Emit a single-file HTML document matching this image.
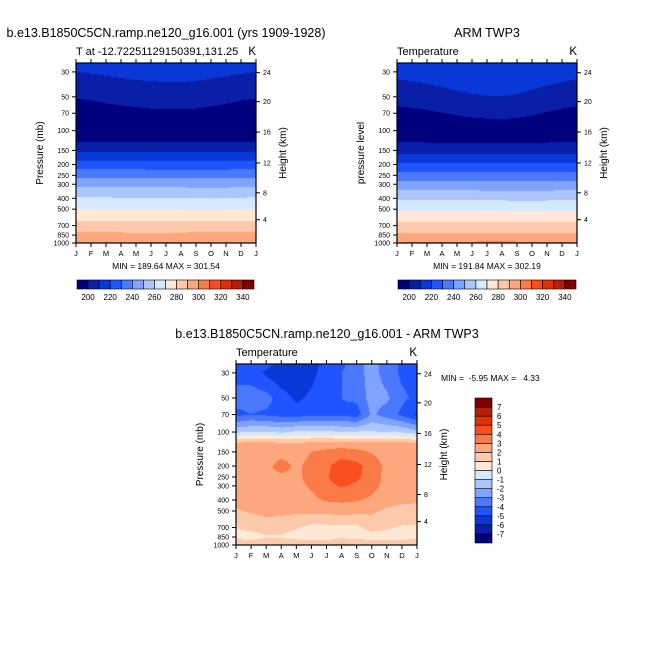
<!DOCTYPE html>
<html><head><meta charset="utf-8">
<style>
html,body{margin:0;padding:0;background:#fff;}
#wrap{position:relative;width:654px;height:654px;overflow:hidden;font-family:"Liberation Sans",Arial,sans-serif;}
canvas{position:absolute;}
svg{position:absolute;left:0;top:0;}
svg text{font-family:"Liberation Sans",Arial,sans-serif;fill:#000;}
</style></head>
<body>
<div id="wrap">
<canvas id="c1"></canvas>
<canvas id="c2"></canvas>
<canvas id="c3"></canvas>
<svg id="ov" width="654" height="654"></svg>
</div>
<script>
const months=['J','F','M','A','M','J','J','A','S','O','N','D','J'];
const pLevels=[25,30,50,70,100,125,150,200,250,300,400,500,700,850,1000];
const pTicks=[30,50,70,100,150,200,250,300,400,500,700,850,1000];
const kmTicks=[24,20,16,12,8,4];
const kmTickPressure=[30.5,55.2,102.9,193.9,357.6,620.6];
const tempLevels=[200,210,220,230,240,250,260,270,280,290,300,310,320,330,340];
const tempLabels=[200,220,240,260,280,300,320,340];
const diffLevels=[-7,-6,-5,-4,-3,-2,-1,0,1,2,3,4,5,6,7];
const colors=['#00007f','#0a1fa8','#0a37d8','#1f55ff','#4a78ff','#7fa3ff','#abc6ff','#d6e8ff','#ffe8d6','#fdc9ab','#fca77d','#fb7b48','#fa4e1e','#dd3008','#b41f0a','#800000'];
const modelT=[
[212.5,213,213.8,214.5,215,215.3,215.5,215.5,215.2,214.5,213.8,213,212.5],
[210,210.6,211.4,212.2,212.8,213.3,213.5,213.5,213.2,212.5,211.5,210.7,210],
[200.5,201.2,202.3,203.3,204,204.5,204.7,204.7,204.4,203.5,202.5,201.3,200.5],
[195,195.5,196.3,197,197.6,198.2,198.5,198.5,198.2,197.5,196.6,195.6,195],
[191,191,191,191,191.2,191.3,191.3,191.3,191.2,191,191,191,191],
[200,199.9,199.8,199.8,199.8,199.7,199.7,199.7,199.8,199.8,199.9,200,200],
[208.4,208.3,208.2,208.1,208,207.9,207.9,208,208,208.1,208.3,208.4,208.4],
[224.6,224.4,224.3,224.2,224.1,224,224,224,223.9,223.8,224,224.3,224.6],
[237.4,237.3,237.2,237.1,237,236.9,236.9,236.9,236.7,236.5,236.8,237.1,237.4],
[247.5,247.4,247.3,247.2,247.1,247,247,247,246.7,246.4,246.8,247.2,247.5],
[261,260.9,260.8,260.7,260.6,260.5,260.5,260.5,260.2,259.8,260.2,260.6,261],
[270.2,270.2,270.1,270,269.9,269.8,269.8,269.8,269.5,269.2,269.6,270,270.2],
[283.9,283.8,283.7,283.6,283.5,283.4,283.4,283.5,283.7,284,284,284,283.9],
[292.5,292.5,292.5,292.4,292.3,292.2,292.2,292.3,292.5,292.8,292.8,292.7,292.5],
[299.5,299.6,299.8,300.2,300.6,300.9,301.3,301.5,301,300.5,300,299.7,299.5]];
const armT=[
[215,215.3,215.8,216.3,216.7,216.9,217,217,216.8,216.3,215.8,215.3,215],
[212.5,213,213.8,214.6,215.3,215.8,216,216,215.7,215,214,213.2,212.5],
[204,204.7,205.8,207,208.2,209.2,209.7,209.8,209.3,208,206.6,205.2,204],
[197,197.6,198.6,199.7,200.8,201.8,202.3,202.5,202,200.8,199.4,198,197],
[192.5,192.8,193.2,193.6,194,194.5,194.8,195,194.7,194,193.4,192.9,192.5],
[199.3,199.3,199.2,199.2,199.1,199,199,199,199,199.1,199.2,199.3,199.3],
[206.6,206.5,206.4,206.3,206.2,206.1,206,206,206,206.2,206.4,206.5,206.6],
[222,221.9,221.8,221.7,221.6,221.5,221.5,221.5,221.4,221.4,221.6,221.8,222],
[234.3,234.2,234.1,234,233.9,233.8,233.7,233.7,233.5,233.4,233.7,234,234.3],
[244,244,243.9,243.8,243.7,243.6,243.5,243.5,243.3,243.1,243.4,243.7,244],
[258.5,258.5,258.4,258.3,258.2,258.1,258,258,257.8,257.6,257.9,258.2,258.5],
[268.6,268.6,268.5,268.4,268.3,268.2,268.2,268.2,268,267.9,268.1,268.4,268.6],
[283.4,283.4,283.3,283.3,283.2,283.2,283.3,283.4,283.5,283.6,283.6,283.5,283.4],
[292,292,292,292,291.9,291.8,291.8,291.9,292.1,292.3,292.3,292.2,292],
[300.5,300.6,300.8,301.1,301.5,301.8,302.1,302.2,301.8,301.3,300.9,300.6,300.5]];
const diffT=[
[-4.5,-4.5,-4.6,-5.3,-5.5,-5.5,-4.5,-4.2,-3.5,-2.5,-3.5,-4.2,-4.6],
[-4.5,-4.5,-5.2,-5.8,-5.8,-5.3,-4.5,-4.0,-3.5,-2.5,-3.5,-4.2,-4.6],
[-3.5,-3.5,-3.6,-4.5,-5.2,-4.8,-4.3,-4.0,-3.8,-2.5,-2.8,-3.8,-4.2],
[-4.3,-4.0,-4.2,-4.4,-4.5,-4.3,-4.2,-4.2,-4.5,-2.8,-3.5,-4.2,-5.2],
[-1.2,-1.0,-0.9,-1.2,-0.8,-0.7,-0.8,-1.0,-0.9,-0.9,-1.0,-1.1,-1.6],
[2.1,2.2,2.2,2.1,2.0,2.2,2.3,2.3,2.3,2.3,2.2,2.2,2.1],
[2.5,2.5,2.5,2.6,2.6,3.0,3.3,3.5,3.3,2.9,2.6,2.5,2.5],
[2.6,2.6,2.7,3.4,2.8,3.3,3.8,4.5,4.3,3.6,2.7,2.6,2.6],
[2.6,2.6,2.7,2.8,2.8,3.3,3.9,4.6,4.2,3.5,2.7,2.6,2.6],
[2.5,2.5,2.6,2.7,2.8,3.1,3.7,4.1,3.8,3.3,2.7,2.5,2.5],
[2.3,2.4,2.5,2.6,2.6,2.8,3.1,3.2,3.1,2.8,2.4,2.2,2.2],
[1.9,2.1,2.3,2.3,2.2,2.3,2.3,2.4,2.3,2.2,1.8,1.7,1.5],
[1.0,1.3,1.5,1.3,1.1,0.7,0.7,0.8,0.8,1.3,1.1,0.9,0.9],
[0.8,0.5,0.9,0.9,0.6,0.3,0.4,0.8,0.6,0.6,0.6,0.6,0.7],
[1.7,1.8,1.8,1.8,1.9,1.9,2.0,2.2,2.0,1.8,1.8,1.8,1.8]];

const NS='http://www.w3.org/2000/svg';
const ov=document.getElementById('ov');
function el(tag,attrs,parent){const e=document.createElementNS(NS,tag);for(const k in attrs)e.setAttribute(k,attrs[k]);(parent||ov).appendChild(e);return e;}
function txt(s,x,y,size,anchor,parent,rot){const t=el('text',{x:x,y:y,'font-size':size,'text-anchor':anchor||'middle'},parent);if(rot)t.setAttribute('transform','rotate(-90 '+x+' '+y+')');t.textContent=s;return t;}

const P_TOP=25,P_BOT=1000;
function yOfP(p,y0,h){return y0+h*Math.log(p/P_TOP)/Math.log(P_BOT/P_TOP);}
function interp(data,m,lp){
  const lps=pLevels.map(Math.log);
  let k=0;while(k<lps.length-2&&lp>lps[k+1])k++;
  let t=(lp-lps[k])/(lps[k+1]-lps[k]);t=Math.max(0,Math.min(1,t));
  let i=Math.floor(m);if(i>11)i=11;const u=m-i;
  const a=data[k][i]*(1-u)+data[k][i+1]*u;
  const b=data[k+1][i]*(1-u)+data[k+1][i+1]*u;
  return a*(1-t)+b*t;
}
function hex(c){return [parseInt(c.slice(1,3),16),parseInt(c.slice(3,5),16),parseInt(c.slice(5,7),16)];}
const rgb=colors.map(hex);
function drawField(id,x0,y0,w,h,data,levels){
  const cv=document.getElementById(id);cv.width=w;cv.height=h;cv.style.left=x0+'px';cv.style.top=y0+'px';
  const ctx=cv.getContext('2d');const img=ctx.createImageData(w,h);
  for(let py=0;py<h;py++){
    const lp=Math.log(P_TOP)+Math.log(P_BOT/P_TOP)*(py+0.5)/h;
    for(let px=0;px<w;px++){
      const m=12*(px+0.5)/w;const v=interp(data,m,lp);
      let ci=0;while(ci<levels.length&&v>=levels[ci])ci++;
      const c=rgb[ci];const o=(py*w+px)*4;
      img.data[o]=c[0];img.data[o+1]=c[1];img.data[o+2]=c[2];img.data[o+3]=255;
    }
  }
  ctx.putImageData(img,0,0);
}
function axes(name,x0,y0,w,h,leftTitle,topLeft,showLeftTicks){
  const g=el('g',{});
  
  
  el('rect',{x:x0,y:y0,width:w,height:h,fill:'none',stroke:'#000','stroke-width':1.2},g);
  months.forEach((mn,i)=>{
    const x=x0+w*i/12;
    el('line',{x1:x,y1:y0,x2:x,y2:y0-4,stroke:'#000','stroke-width':1},g);
    el('line',{x1:x,y1:y0+h,x2:x,y2:y0+h+4,stroke:'#000','stroke-width':1},g);
    const t=txt(mn,x,y0+h+13,7.5,'middle',g);
    
    
  });
  pTicks.forEach(p=>{
    const y=yOfP(p,y0,h);
    el('line',{x1:x0,y1:y,x2:x0-4,y2:y,stroke:'#000','stroke-width':1},g);
    if(showLeftTicks){const t=txt(String(p),x0-7,y+2.5,7,'end',g);
      
      }
  });
  kmTicks.forEach((k,i)=>{
    const y=yOfP(kmTickPressure[i],y0,h);
    el('line',{x1:x0+w,y1:y,x2:x0+w+4,y2:y,stroke:'#000','stroke-width':1},g);
    const t=txt(String(k),x0+w+7,y+2.5,7,'start',g);
    
    
  });
  const lt=txt(leftTitle,x0-33,y0+h/2,10,'middle',g,true);
  
  
  const rt=txt('Height (km)',x0+w+30,y0+h/2,10,'middle',g,true);
  
  
  const tl=txt(topLeft,x0,y0-8,11,'start',g);
  
  
  const k=txt('K',x0+w,y0-8,11.5,'end',g);
  
  
}
function hbar(name,x0,y0,w,h){
  const g=el('g',{});
  
  
  const n=colors.length,bw=w/n;
  colors.forEach((c,i)=>{el('rect',{x:x0+i*bw,y:y0,width:bw,height:h,fill:c,stroke:'#000','stroke-width':0.6},g);});
  tempLabels.forEach(v=>{
    const idx=tempLevels.indexOf(v)+1;
    const t=txt(String(v),x0+idx*bw,y0+h+11,8,'middle',g);
    
    
  });
}
function vbar(name,x0,y0,w,h){
  const g=el('g',{});
  
  
  const n=colors.length,bh=h/n;
  colors.forEach((c,i)=>{el('rect',{x:x0,y:y0+h-(i+1)*bh,width:w,height:bh,fill:c,stroke:'#000','stroke-width':0.6},g);});
  diffLevels.forEach((v,i)=>{
    const t=txt(String(v),x0+w+5,y0+h-(i+1)*bh+3,8,'start',g);
    
    
  });
}

drawField('c1',76,63,180,180,modelT,tempLevels);
drawField('c2',397,63,180,180,armT,tempLevels);
drawField('c3',236,364,181,181,diffT,diffLevels);

axes('model',76,63,180,180,'Pressure (mb)','T at -12.72251129150391,131.25',true);
axes('arm',397,63,180,180,'pressure level','Temperature',true);
axes('diff',236,364,181,181,'Pressure (mb)','Temperature',true);

let t;
t=txt('b.e13.B1850C5CN.ramp.ne120_g16.001 (yrs 1909-1928)',166,37,12.5,'middle');

t=txt('ARM TWP3',487,37,12.5,'middle');

t=txt('b.e13.B1850C5CN.ramp.ne120_g16.001 - ARM TWP3',327,338,12.5,'middle');

t=txt('MIN = 189.64 MAX = 301.54',166,269,8.5,'middle');

t=txt('MIN = 191.84 MAX = 302.19',487,269,8.5,'middle');

t=txt('MIN =  -5.95 MAX =   4.33',441,381,8.5,'start');

t.setAttribute('xml:space','preserve');t.style.whiteSpace='pre';

hbar('model-colorbar',77,280,177,9);
hbar('arm-colorbar',398,280,178,9);
vbar('difference-colorbar',475,398,17,145);
</script>
</body></html>
